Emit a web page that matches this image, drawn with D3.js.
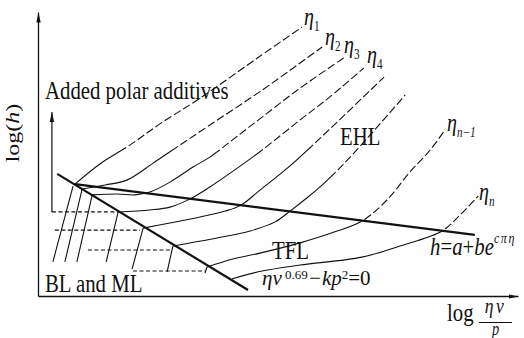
<!DOCTYPE html>
<html>
<head>
<meta charset="utf-8">
<script src="https://cdn.jsdelivr.net/npm/d3@7"></script>
<style>
  body { margin: 0; background: #fff; }
  text { font-family: "Liberation Serif", "Times New Roman", serif; fill: #111; }
</style>
</head>
<body>
<div id="chart"></div>
<script>
// schematic units: x = log(eta*v/p), y = log(h), both 0..100
// film thickness curves, one per viscosity
const eta1 = [[7.7,39.4],[12.9,46.5],[19.2,53.2],[25.4,60.6],[33.8,69.7],[46.3,84.5],[55.0,94.7]];
const eta2 = [[9.2,37.7],[14.0,39.1],[18.5,40.8],[24.0,46.8],[29.0,52.5],[35.8,60.2],[46.7,72.5],[59.2,87.7]];
const eta3 = [[11.3,35.6],[16.5,35.9],[20.2,35.6],[23.3,36.6],[27.5,40.1],[32.3,45.4],[35.8,48.9],[41.0,55.6],[46.7,63.0],[54.6,73.2],[64.0,84.2]];
const eta4 = [[16.7,29.6],[23.3,30.3],[27.5,31.3],[31.7,34.2],[35.8,38.4],[41.0,44.4],[46.7,51.4],[54.6,62.0],[60.8,70.1],[67.9,80.3]];
const eta5 = [[21.9,23.9],[27.5,25.7],[33.75,27.8],[39.0,29.9],[42.3,32.0],[46.25,37.3],[52.5,45.8],[60.8,58.8],[72.1,77.1]];
const eta6 = [[28.1,17.6],[37.3,20.4],[44.2,22.9],[49.4,26.1],[52.5,29.9],[56.0,34.5],[59.4,39.4],[63.3,45.8],[69.2,56.7],[76.5,70.8]];
const etaN1 = [[35.2,10.2],[40.6,13.0],[46.25,15.1],[54.6,18.7],[61.7,22.5],[67.5,26.4],[72.7,33.8],[77.5,43.7],[81.7,51.4],[84.8,58.5]];
const etaN = [[40.4,6.0],[46.7,8.8],[54.6,10.9],[67.5,13.7],[75.4,17.6],[84.2,22.9],[87.9,28.5],[91.7,35.2]];

// transition lines
const tflLine = [[4.0,43.0],[43.75,2.1]];     // eta v^0.69 - k p^2 = 0
const ehlLine = [[7.7,39.4],[91.0,21.5]];     // h = a + b e^(c pi eta)

// boundary lubrication branches (bottom point, top point)
const blLines = [
  [[3.1,12.0],[7.3,38.7]],
  [[5.6,12.0],[9.2,37.7]],
  [[8.1,12.0],[11.3,35.6]],
  [[14.2,12.0],[16.7,29.6]],
  [[19.6,9.5],[21.9,23.9]],
  [[26.9,8.5],[28.1,17.6]],
  [[34.8,8.1],[35.2,10.2]]
];

// film thickness levels (dashed): [h, x start, x end]
const levels = [[29.6,2.9,16.7],[23.2,3.5,21.25],[16.2,10.4,27.7],[8.8,19.8,34.8]];

// polar additives arrow
const polarArrow = [[2.9,29.6],[2.9,64.8]];

const W = 524, H = 338;
const svg = d3.select("#chart").append("svg").attr("width", W).attr("height", H);

const x = d3.scaleLinear().domain([0, 100]).range([38, 518]);
const y = d3.scaleLinear().domain([0, 100]).range([296, 12]);

const defs = svg.append("defs");
defs.append("marker")
    .attr("id", "arrow")
    .attr("viewBox", "0 0 10 10")
    .attr("refX", 10).attr("refY", 5)
    .attr("markerWidth", 10).attr("markerHeight", 10)
    .attr("markerUnits", "userSpaceOnUse")
    .attr("orient", "auto")
  .append("path")
    .attr("d", "M0,2.8L10,5L0,7.2Z")
    .attr("fill", "#111");

// axes (no ticks, only the arrowed lines)
svg.append("g")
    .attr("transform", "translate(0," + y(0) + ")")
    .call(d3.axisBottom(x).ticks(0).tickSizeOuter(0));
svg.append("g")
    .attr("transform", "translate(" + x(0) + ",0)")
    .call(d3.axisLeft(y).ticks(0).tickSizeOuter(0));
svg.selectAll(".domain")
    .attr("stroke", "#111")
    .attr("stroke-width", 1.3)
    .attr("marker-end", "url(#arrow)");

// zones: upper steep parts of the curves look dashed in the figure
const sx0 = x(ehlLine[0][0]), sy0 = y(ehlLine[0][1]);
const sx1 = x(ehlLine[1][0]), sy1 = y(ehlLine[1][1]);
const yS = px => sy0 + (px - sx0) * (sy1 - sy0) / (sx1 - sx0);
const yTop = 150, xCut = 330;
defs.append("clipPath").attr("id", "dashZone").append("polygon")
    .attr("points", [[0,0],[W,0],[W,yS(W)],[xCut,yS(xCut)],[xCut,yTop],[0,yTop]].join(" "));
defs.append("clipPath").attr("id", "solidZone").append("polygon")
    .attr("points", [[0,yTop],[xCut,yTop],[xCut,yS(xCut)],[W,yS(W)],[W,H],[0,H]].join(" "));

const line = d3.line()
    .x(d => x(d[0]))
    .y(d => y(d[1]))
    .curve(d3.curveCatmullRom.alpha(0.5));
const straight = d3.line().x(d => x(d[0])).y(d => y(d[1]));

const curves = [eta1, eta2, eta3, eta4, eta5, eta6, etaN1, etaN];

svg.append("g").attr("clip-path", "url(#solidZone)")
  .selectAll("path").data(curves).enter().append("path")
    .attr("d", line)
    .attr("fill", "none").attr("stroke", "#111").attr("stroke-width", 1.1);
svg.append("g").attr("clip-path", "url(#dashZone)")
  .selectAll("path").data(curves).enter().append("path")
    .attr("d", line)
    .attr("fill", "none").attr("stroke", "#111").attr("stroke-width", 1.1)
    .attr("stroke-dasharray", "8,3");

// BL branches
svg.append("g").selectAll("path").data(blLines).enter().append("path")
    .attr("d", straight)
    .attr("fill", "none").attr("stroke", "#111").attr("stroke-width", 1.1);

// dashed levels
svg.append("g").selectAll("line").data(levels).enter().append("line")
    .attr("x1", d => x(d[1])).attr("x2", d => x(d[2]))
    .attr("y1", d => y(d[0])).attr("y2", d => y(d[0]))
    .attr("stroke", "#111").attr("stroke-width", 1.2)
    .attr("stroke-dasharray", "4,2.5");

// thick transition lines
svg.append("g").selectAll("path").data([tflLine, ehlLine]).enter().append("path")
    .attr("d", straight)
    .attr("fill", "none").attr("stroke", "#111").attr("stroke-width", 2.2);

// polar additives arrow
svg.append("path")
    .attr("d", straight(polarArrow))
    .attr("stroke", "#111").attr("stroke-width", 1.2)
    .attr("marker-end", "url(#arrow)");

// text helper: the figure's lettering is squeezed horizontally
function label(px, py, parts, size, sx) {
  const t = svg.append("text")
      .attr("transform", "translate(" + px + "," + py + ") scale(" + (sx || 0.8) + ",1)")
      .attr("font-size", size);
  parts.forEach(p => {
    const s = t.append("tspan").text(p.t);
    if (p.dy) s.attr("dy", p.dy);
    if (p.size) s.attr("font-size", p.size);
    if (p.it) s.attr("font-style", "italic");
    if (p.ls) s.attr("letter-spacing", p.ls);
  });
  return t;
}

label(45, 99, [{t: "Added polar additives"}], 26);
label(45, 292, [{t: "BL and ML"}], 26);
label(340, 145, [{t: "EHL"}], 26);
label(272, 259, [{t: "TFL"}], 26);

const etaLabels = [
  [304, 25, "1"], [325, 45, "2"], [344, 53, "3"], [367, 63, "4"],
  [447, 131, "n\u22121"], [479, 200, "n"]
];
etaLabels.forEach(l => {
  label(l[0], l[1], [{t: "\u03b7", it: true}, {t: l[2], size: 14, dy: 6, it: l[2].startsWith("n")}], 25);
});

// y axis title
svg.append("text")
    .attr("transform", "translate(19,133) scale(0.8,1) rotate(-90)")
    .attr("text-anchor", "middle")
    .attr("font-size", 24)
    .call(t => {
      t.append("tspan").text("log(");
      t.append("tspan").attr("font-style", "italic").text("h");
      t.append("tspan").text(")");
    });

// x axis title: log (eta v / p)
label(447, 321, [{t: "log"}], 26);
label(495.5, 313, [{t: "\u03b7\u03bd", it: true, ls: 3}], 22).attr("text-anchor", "middle");
label(495.5, 334.5, [{t: "p", it: true}], 18).attr("text-anchor", "middle");
svg.append("line").attr("x1", 479).attr("x2", 512).attr("y1", 322.5).attr("y2", 322.5)
    .attr("stroke", "#111").attr("stroke-width", 1);

// equations
label(262, 285, [
  {t: "\u03b7\u03bd", it: true},
  {t: " 0.69", size: 13, dy: -6},
  {t: "\u2212kp", it: true, dy: 6},
  {t: "2", size: 13, dy: -6},
  {t: "=0", dy: 6}
], 21, 1);
label(430, 255, [
  {t: "h", it: true},
  {t: "="},
  {t: "a", it: true},
  {t: "+"},
  {t: "be", it: true},
  {t: "c\u03c0\u03b7", it: true, size: 15, dy: -12, ls: 2}
], 26);
</script>
</body>
</html>
